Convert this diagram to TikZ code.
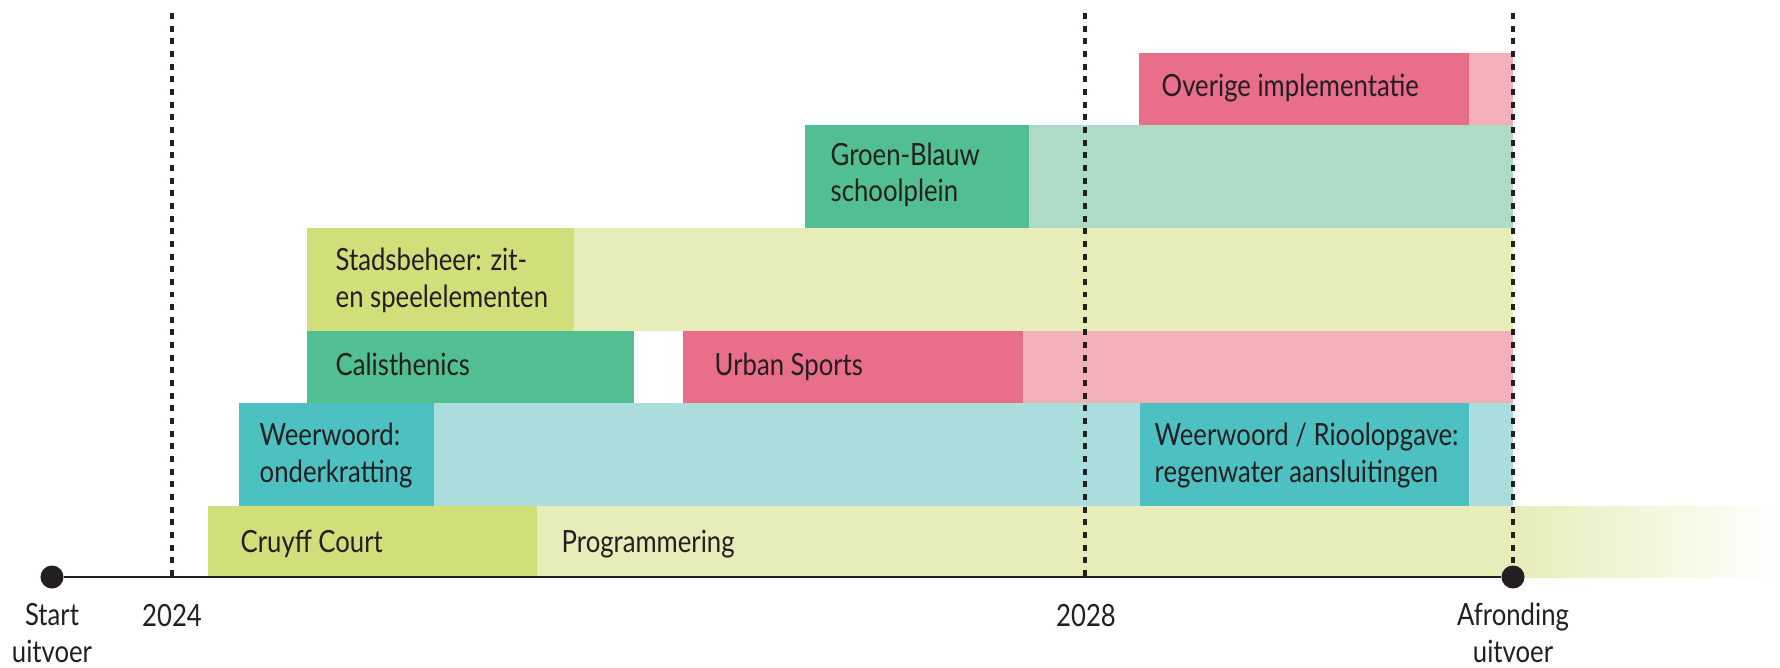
\documentclass[tikz,border=0pt]{standalone}
\usepackage{fontspec}
\setmainfont{Lato}[FakeStretch=0.84]
\definecolor{ink}{HTML}{231F20}
\definecolor{limebar}{HTML}{D0DF7A}
\definecolor{limelight}{HTML}{E6EDB8}
\definecolor{tealbar}{HTML}{4DC1C1}
\definecolor{teallight}{HTML}{ABDDDD}
\definecolor{greenbar}{HTML}{52BF92}
\definecolor{greenlight}{HTML}{ADDBC6}
\definecolor{pinkbar}{HTML}{E96E8A}
\definecolor{pinklight}{HTML}{F3B0BB}
\tikzset{
  label/.style={font=\fontsize{8.7}{10.45}\selectfont, text=ink, inner sep=0pt, align=left, anchor=base west},
  ticklabel/.style={font=\fontsize{8.7}{10.45}\selectfont, text=ink, inner sep=0pt, align=center, anchor=base},
  milestone/.style={circle, fill=ink, inner sep=0pt, minimum size=0.23cm},
  yearline/.style={ink, line width=0.95pt, dash pattern=on 1.7pt off 1.9pt}
}
\begin{document}
\begin{tikzpicture}[x={(0.01cm,0)}, y={(0,-0.01cm)}]
\useasboundingbox (0,0) rectangle (1780,667);

% bars, row by row from the timeline up
\fill[limebar] (208,506) rectangle (537,577);
\fill[limelight] (537,506) rectangle (1513,577);
\shade[left color=limelight, right color=white] (1513,506) rectangle (1780,577);

\fill[tealbar] (239,403) rectangle (434,506);
\fill[teallight] (434,403) rectangle (1140,506);
\fill[tealbar] (1140,403) rectangle (1469,506);
\fill[teallight] (1469,403) rectangle (1513,506);

\fill[greenbar] (307,331) rectangle (634,403);
\fill[pinkbar] (683,331) rectangle (1023,403);
\fill[pinklight] (1023,331) rectangle (1513,403);

\fill[limebar] (307,228) rectangle (574,331);
\fill[limelight] (574,228) rectangle (1513,331);

\fill[greenbar] (805,125) rectangle (1029,228);
\fill[greenlight] (1029,125) rectangle (1513,228);

\fill[pinkbar] (1139,53) rectangle (1469,125);
\fill[pinklight] (1469,53) rectangle (1513,125);

% labels (two-line nodes sit on their last baseline)
\node[label] (cruyff) at (240,552) {Cruyff Court};
\node[label] (progr) at (561,552) {Programmering};
\node[label] (weer) at (259,482) {Weerwoord:\\onderkratting};
\node[label] (riool) at (1154,482) {Weerwoord / Rioolopgave:\\regenwater aansluitingen};
\node[label] (calis) at (335,375) {Calisthenics};
\node[label] (urban) at (714,375) {Urban Sports};
\node[label] (stads) at (335,307) {Stadsbeheer: zit-\\en speelelementen};
\node[label] (groen) at (830,202) {Groen-Blauw\\schoolplein};
\node[label] (overig) at (1161,97) {Overige implementatie};

% timeline
\node[milestone] (start) at (52,577) {};
\node[milestone] (end) at (1513,577) {};
\draw[ink, line width=0.77pt] (start) -- (end);

\coordinate (top24) at (172,13);
\coordinate (top28) at (1085,13);
\coordinate (topend) at (1513,13);
\draw[yearline] (top24) -- (top24 |- start);
\draw[yearline] (top28) -- (top28 |- start);
\draw[yearline] (topend) -- (end);

\node[ticklabel] (lstart) at (52,662) {Start\\uitvoer};
\node[ticklabel] (l24) at (172,626) {2024};
\node[ticklabel] (l28) at (1086,626) {2028};
\node[ticklabel] (lend) at (1513,662) {Afronding\\uitvoer};
\end{tikzpicture}
\end{document}
